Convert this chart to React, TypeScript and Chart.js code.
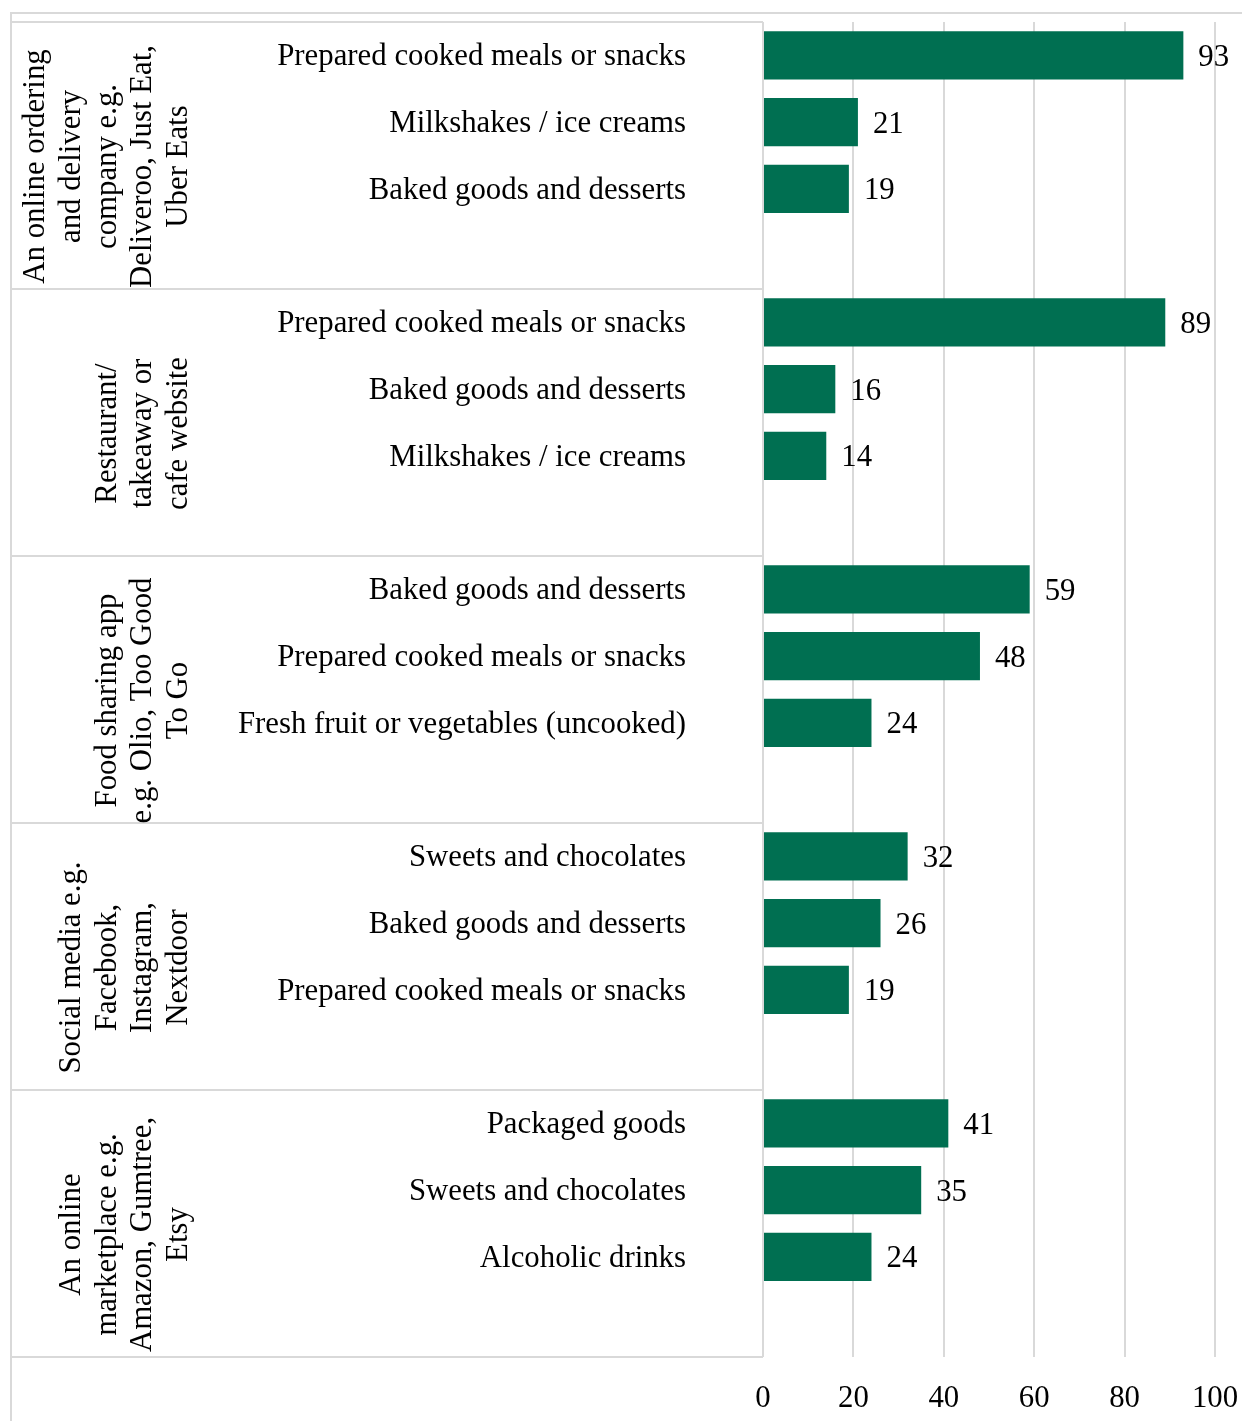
import React, { useEffect, useRef } from "react";
import { Chart, registerables } from "chart.js";

Chart.register(...registerables);

const groupLabels: string[][] = [
  ["An online ordering", "and delivery", "company e.g.", "Deliveroo, Just Eat,", "Uber Eats"],
  ["Restaurant/", "takeaway or", "cafe website"],
  ["Food sharing app", "e.g. Olio, Too Good", "To Go"],
  ["Social media e.g.", "Facebook,", "Instagram,", "Nextdoor"],
  ["An online", "marketplace e.g.", "Amazon, Gumtree,", "Etsy"],
];

const deliveryItems = ["Prepared cooked meals or snacks", "Milkshakes / ice creams", "Baked goods and desserts"];
const deliveryValues = [93, 21, 19];

const restaurantItems = ["Prepared cooked meals or snacks", "Baked goods and desserts", "Milkshakes / ice creams"];
const restaurantValues = [89, 16, 14];

const sharingItems = ["Baked goods and desserts", "Prepared cooked meals or snacks", "Fresh fruit or vegetables (uncooked)"];
const sharingValues = [59, 48, 24];

const socialItems = ["Sweets and chocolates", "Baked goods and desserts", "Prepared cooked meals or snacks"];
const socialValues = [32, 26, 19];

const marketplaceItems = ["Packaged goods", "Sweets and chocolates", "Alcoholic drinks"];
const marketplaceValues = [41, 35, 24];

const xTicks = [0, 20, 40, 60, 80, 100];

const groupItems = [deliveryItems, restaurantItems, sharingItems, socialItems, marketplaceItems];
const groupValues = [deliveryValues, restaurantValues, sharingValues, socialValues, marketplaceValues];

const FONT = "'Liberation Serif', 'Times New Roman', serif";
const FONT_SIZE = 30.8;
const BAR_COLOR = "#006f51";
const LINE_COLOR = "#d9d9d9";

export default function App() {
  const ref = useRef<HTMLCanvasElement | null>(null);

  useEffect(() => {
    if (!ref.current) return;
    const labels: string[] = [];
    const values: (number | null)[] = [];
    groupItems.forEach((items, g) => {
      items.forEach((it, i) => {
        labels.push(it);
        values.push(groupValues[g][i]);
      });
      labels.push("");
      values.push(null);
    });

    const decor = {
      id: "decor",
      beforeDraw(chart: any) {
        const ctx = chart.ctx;
        const y = chart.scales.y;
        const area = chart.chartArea;
        ctx.save();
        ctx.strokeStyle = LINE_COLOR;
        ctx.lineWidth = 2;
        ctx.beginPath();
        ctx.moveTo(10, 13);
        ctx.lineTo(chart.width, 13);
        ctx.moveTo(11, 13);
        ctx.lineTo(11, chart.height);
        ctx.stroke();
        ctx.beginPath();
        for (let g = 0; g <= groupLabels.length; g++) {
          const py = Math.round(y.getPixelForValue(g * 4 - 0.5));
          ctx.moveTo(11, py);
          ctx.lineTo(area.left, py);
        }
        ctx.stroke();
        ctx.restore();
      },
      afterDatasetsDraw(chart: any) {
        const ctx = chart.ctx;
        const y = chart.scales.y;
        const area = chart.chartArea;
        ctx.save();
        ctx.fillStyle = "#000";
        ctx.font = `${FONT_SIZE}px ${FONT}`;
        ctx.textBaseline = "middle";
        // category labels
        chart.data.labels.forEach((lab: string, i: number) => {
          if (!lab) return;
          ctx.textAlign = "right";
          ctx.fillText(lab, area.left - 77, y.getPixelForValue(i) + 2);
        });
        // value labels
        const meta = chart.getDatasetMeta(0);
        meta.data.forEach((bar: any, i: number) => {
          const v = chart.data.datasets[0].data[i];
          if (v == null) return;
          ctx.textAlign = "left";
          ctx.fillText(String(v), bar.x + 15, bar.y + 2.5);
        });
        // group labels (rotated)
        const lh = 35.7;
        groupLabels.forEach((lines, g) => {
          const top = y.getPixelForValue(g * 4 - 0.5);
          const bottom = y.getPixelForValue(g * 4 + 3.5);
          const cy = (top + bottom) / 2 + 11;
          lines.forEach((ln, i) => {
            const cx = 179 - (lines.length - 1 - i) * lh;
            ctx.save();
            ctx.translate(cx, cy);
            ctx.rotate(-Math.PI / 2);
            ctx.textAlign = "center";
            ctx.textBaseline = "middle";
            ctx.fillText(ln, 0, 0);
            ctx.restore();
          });
        });
        ctx.restore();
      },
    };

    const chart = new Chart(ref.current, {
      type: "bar",
      data: {
        labels,
        datasets: [
          {
            data: values,
            backgroundColor: BAR_COLOR,
            borderWidth: 0,
            barPercentage: 0.72,
            categoryPercentage: 1,
          },
        ],
      },
      options: {
        indexAxis: "y",
        animation: false,
        responsive: false,
        maintainAspectRatio: false,
        layout: { padding: { top: 22, right: 27, left: 0, bottom: 0 } },
        plugins: { legend: { display: false }, tooltip: { enabled: false } },
        scales: {
          x: {
            min: 0,
            max: 100,
            afterBuildTicks: (s: any) => {
              s.ticks = xTicks.map((v) => ({ value: v }));
            },
            afterFit: (s: any) => {
              s.height = 64;
              s.paddingLeft = 0;
              s.paddingRight = 0;
            },
            grid: { color: LINE_COLOR, lineWidth: 2, drawTicks: false },
            border: { display: false },
            ticks: {
              padding: 23,
              color: "#000",
              font: { family: FONT, size: FONT_SIZE },
              maxRotation: 0,
            },
          },
          y: {
            afterFit: (s: any) => {
              s.width = 763;
              s.paddingTop = 0;
              s.paddingBottom = 0;
            },
            grid: { display: false, drawTicks: false },
            border: { display: false },
            ticks: { display: false, autoSkip: false },
          },
        },
      },
      plugins: [decor],
    });
    return () => chart.destroy();
  }, []);

  return (
    <div style={{ position: "absolute", left: 0, top: 0, width: 1242, height: 1421, background: "#fff" }}>
      <canvas ref={ref} width={1242} height={1421} style={{ display: "block", width: 1242, height: 1421 }} />
    </div>
  );
}
